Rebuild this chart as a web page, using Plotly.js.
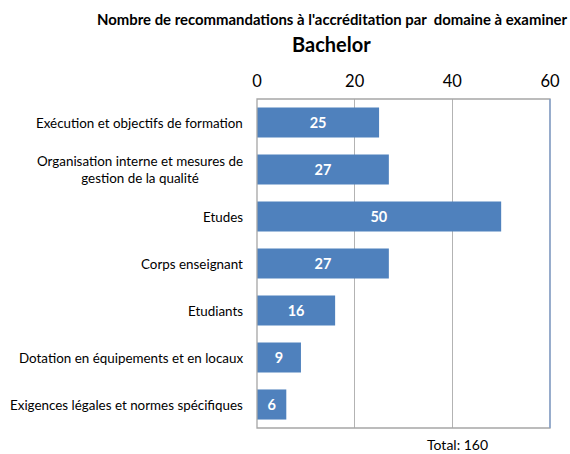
<!DOCTYPE html>
<html>
<head>
<meta charset="utf-8">
<script src="https://cdn.plot.ly/plotly-3.0.1.min.js"></script>
<style>html,body{margin:0;padding:0;background:#fff;}#chart{width:570px;height:454px;}</style>
</head>
<body>
<div id="chart"></div>
<script>
const categories = [
  "Exécution et objectifs de formation",
  "Organisation interne et mesures de<br>gestion de la qualité",
  "Etudes",
  "Corps enseignant",
  "Etudiants",
  "Dotation en équipements et en locaux",
  "Exigences légales et normes spécifiques"
];
const values = [25, 27, 50, 27, 16, 9, 6];
const xTicks = [0, 20, 40, 60];
const titleLine1 = "Nombre de recommandations à l'accréditation par  domaine à examiner";
const titleLine2 = "Bachelor";
const totalLabel = "Total: 160";

const FONT = "Lato, 'Noto Sans', sans-serif";

const trace = {
  type: 'bar',
  orientation: 'h',
  y: categories,
  x: values,
  marker: {color: '#4f81bd'},
  text: values.map(String),
  textposition: 'inside',
  insidetextanchor: 'middle',
  textangle: 0,
  textfont: {color: '#ffffff', size: 14.5, family: FONT, weight: 'bold'},
  hoverinfo: 'none',
  cliponaxis: false
};

const annotations = categories.map(c => ({
  xref: 'paper', yref: 'y', x: 0, xshift: -12, y: c,
  xanchor: 'right', yanchor: 'middle', align: 'center',
  text: c, showarrow: false,
  font: {family: FONT, size: 13.4, color: '#000'}
}));
annotations.push({
  xref: 'paper', yref: 'paper', x: 0.256, y: 1, yshift: 80,
  xanchor: 'center', yanchor: 'middle', text: '<b>' + titleLine1 + '</b>',
  showarrow: false, font: {family: FONT, size: 14.9, color: '#000'}
});
annotations.push({
  xref: 'paper', yref: 'paper', x: 0.253, y: 1, yshift: 55,
  xanchor: 'center', yanchor: 'middle', text: '<b>' + titleLine2 + '</b>',
  showarrow: false, font: {family: FONT, size: 20, color: '#000'}
});
annotations.push({
  xref: 'x', yref: 'paper', x: 41, y: 0, yshift: -16,
  xanchor: 'center', yanchor: 'middle', text: totalLabel,
  showarrow: false, font: {family: FONT, size: 14, color: '#000'}
});

const layout = {
  width: 570, height: 454,
  margin: {l: 257, r: 20, t: 99, b: 26},
  paper_bgcolor: '#fff', plot_bgcolor: '#fff',
  showlegend: false,
  bargap: 0.36,
  font: {family: FONT, color: '#000'},
  xaxis: {
    side: 'top', range: [0, 60], tickvals: xTicks, ticktext: xTicks.map(String),
    showgrid: true, gridcolor: '#b3b3b3', gridwidth: 1.3,
    zeroline: false, showline: false, ticks: '', ticklabelstandoff: 8,
    tickfont: {family: FONT, size: 16.5, color: '#000'}, fixedrange: true
  },
  yaxis: {
    autorange: 'reversed', showticklabels: false, showgrid: false,
    zeroline: false, showline: false, ticks: '', fixedrange: true
  },
  shapes: [
    {type: 'rect', xref: 'paper', yref: 'paper', x0: 0, x1: 1, y0: 0, y1: 1,
     line: {color: '#a6a6a6', width: 1.3}, layer: 'above'},
    {type: 'line', xref: 'paper', yref: 'paper', x0: 1, x1: 1, y0: 0, y1: 1,
     line: {color: '#7f9fcf', width: 1.3}, layer: 'above'}
  ],
  annotations: annotations
};

Plotly.newPlot('chart', [trace], layout, {displayModeBar: false, staticPlot: true});
</script>
</body>
</html>
